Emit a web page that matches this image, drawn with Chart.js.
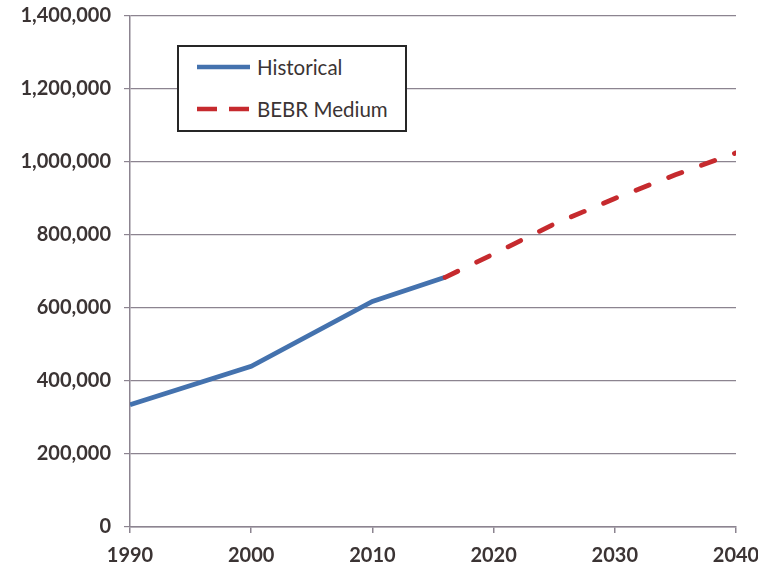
<!DOCTYPE html>
<html>
<head>
<meta charset="utf-8">
<script src="https://cdn.jsdelivr.net/npm/chart.js@4/dist/chart.umd.min.js"></script>
<style>
  html, body { margin: 0; padding: 0; background: #fff; }
  #wrap { position: relative; width: 758px; height: 569px; }
  #legend {
    position: absolute; left: 177px; top: 45px; width: 226px; height: 83px;
    border: 2px solid #262626; background: #fff;
    font-family: Lato, "Open Sans", sans-serif; font-size: 20.5px; color: #3b3434;
  }
  .item { position: absolute; left: 16px; display: flex; align-items: center; }
  .item svg { margin-right: 6px; }
</style>
</head>
<body>
<div id="wrap">
  <canvas id="chart" width="758" height="569"></canvas>
  <div id="legend"></div>
</div>
<script>
// データ
const historicalYears = [1990, 2000, 2010, 2016];
const historicalPop = [335000, 440000, 618000, 684000];
const bebrYears = [2016, 2020, 2025, 2030, 2035, 2040];
const bebrPop = [684000, 748000, 830000, 900000, 965000, 1025000];

const seriesNames = ['Historical', 'BEBR Medium'];
const seriesColors = ['#4472ae', '#c62a2e'];
const seriesDash = [[], [14, 21]];

const TEXT = '#3b3434';
const GRID = '#8c8490';
const FONT = { family: 'Lato, "Open Sans", sans-serif', size: 20, weight: 'bold' };

function toPoints(xs, ys) {
    return xs.map((x, i) => ({ x: x, y: ys[i] }));
}

const datasets = [
    toPoints(historicalYears, historicalPop),
    toPoints(bebrYears, bebrPop)
].map((pts, i) => ({
    label: seriesNames[i],
    data: pts,
    borderColor: seriesColors[i],
    borderWidth: 4.8,
    borderDash: seriesDash[i],
    borderCapStyle: i === 1 ? 'round' : 'butt',
    pointRadius: 0,
    tension: 0,
    order: 1 - i
}));

new Chart(document.getElementById('chart'), {
    type: 'line',
    data: { datasets },
    options: {
        responsive: false,
        animation: false,
        layout: { padding: { top: 16, right: 22, left: 0, bottom: 0 } },
        plugins: { legend: { display: false }, tooltip: { enabled: false } },
        scales: {
            x: {
                type: 'linear',
                min: 1990, max: 2040,
                afterFit: s => { s.height = 42; s.paddingLeft = 0; s.paddingRight = 0; },
                border: { color: GRID, width: 1.5 },
                grid: { drawOnChartArea: false, drawTicks: true, tickLength: 6, color: GRID, lineWidth: 1.5 },
                ticks: {
                    stepSize: 10, color: TEXT, font: FONT, padding: 11, maxRotation: 0,
                    callback: v => String(v)
                }
            },
            y: {
                min: 0, max: 1400000,
                afterFit: s => { s.width = 130; s.paddingTop = 0; s.paddingBottom = 0; },
                border: { color: GRID, width: 1.5 },
                grid: { color: GRID, lineWidth: 1.2, tickLength: 6 },
                ticks: {
                    stepSize: 200000, color: TEXT, font: FONT, padding: 13,
                    callback: v => v.toLocaleString('en-US')
                }
            }
        }
    }
});

// 凡例（枠付き、グラフ内に配置）
const legend = document.getElementById('legend');
seriesNames.forEach((name, i) => {
    const item = document.createElement('div');
    item.className = 'item';
    item.style.top = (i === 0 ? 8 : 50) + 'px';
    const dash = i === 1 ? 'stroke-dasharray="20 12"' : '';
    item.innerHTML =
        `<svg width="56" height="8"><line x1="2" y1="4" x2="55" y2="4" stroke="${seriesColors[i]}" stroke-width="4.5" ${dash}/></svg>` +
        `<span>${name}</span>`;
    legend.appendChild(item);
});
</script>
</body>
</html>
